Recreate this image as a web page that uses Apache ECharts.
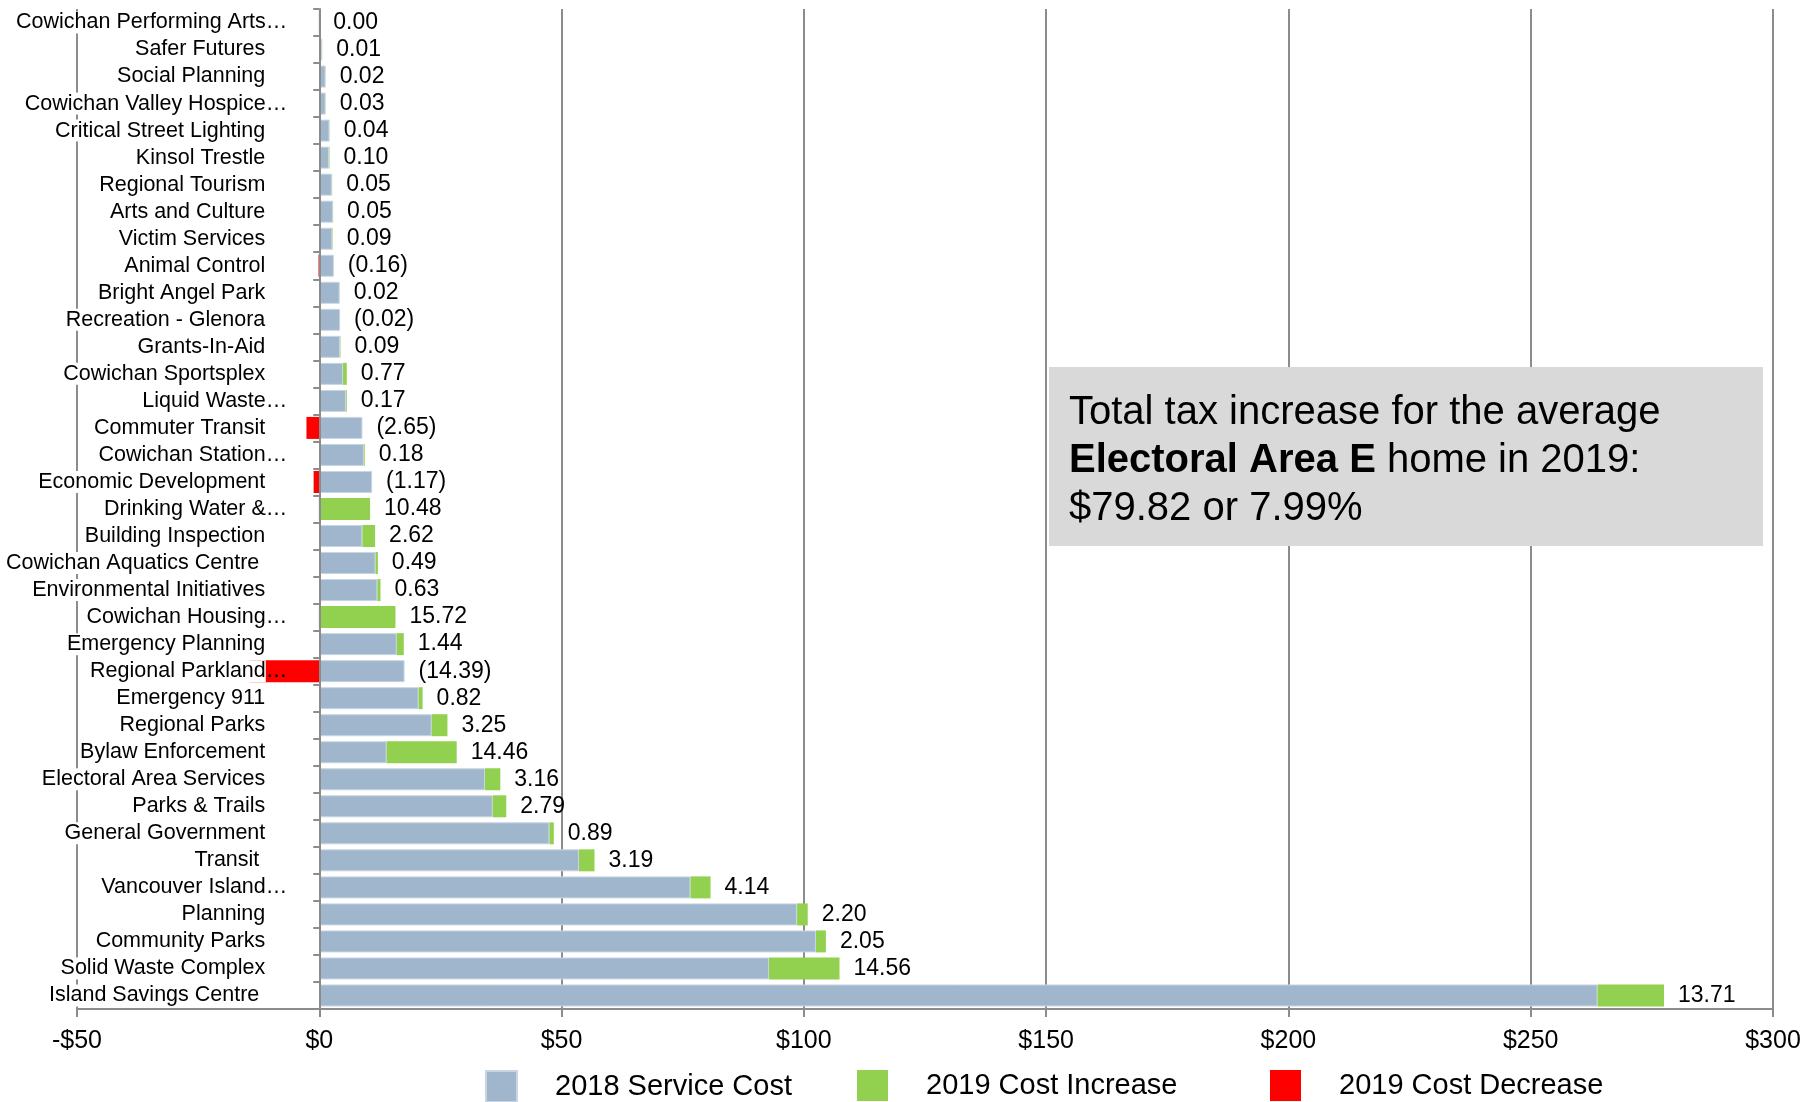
<!DOCTYPE html>
<html>
<head>
<meta charset="utf-8">
<script src="https://cdn.jsdelivr.net/npm/echarts@6/dist/echarts.min.js"></script>
<style>
    html, body { margin: 0; padding: 0; background: #fff; }
    #main { width: 1820px; height: 1102px; }
</style>
</head>
<body>
<div id="main"></div>
<script>
const categories = [
    "Cowichan Performing Arts…", "Safer Futures", "Social Planning", "Cowichan Valley Hospice…",
    "Critical Street Lighting", "Kinsol Trestle", "Regional Tourism", "Arts and Culture",
    "Victim Services", "Animal Control", "Bright Angel Park", "Recreation - Glenora",
    "Grants-In-Aid", "Cowichan Sportsplex", "Liquid Waste…", "Commuter Transit",
    "Cowichan Station…", "Economic Development", "Drinking Water &…", "Building Inspection",
    "Cowichan Aquatics Centre ", "Environmental Initiatives", "Cowichan Housing…", "Emergency Planning",
    "Regional Parkland…", "Emergency 911", "Regional Parks", "Bylaw Enforcement",
    "Electoral Area Services", "Parks & Trails", "General Government", "Transit ",
    "Vancouver Island…", "Planning", "Community Parks", "Solid Waste Complex",
    "Island Savings Centre "
];

// 2018 service cost per service ($)
const baseCost = [
    0, 0.6, 1.3, 1.3,
    2.1, 2.0, 2.6, 2.8,
    2.7, 3.0, 4.2, 4.3,
    4.3, 4.9, 5.5, 8.9,
    9.2, 10.9, 0, 8.9,
    11.6, 12.0, 0, 16.0,
    17.6, 20.5, 23.2, 13.9,
    34.2, 35.8, 47.5, 53.6,
    76.6, 98.6, 102.5, 92.8,
    263.8
];

// 2019 change (negative = decrease)
const change = [
    0.00, 0.01, 0.02, 0.03,
    0.04, 0.10, 0.05, 0.05,
    0.09, -0.16, 0.02, -0.02,
    0.09, 0.77, 0.17, -2.65,
    0.18, -1.17, 10.48, 2.62,
    0.49, 0.63, 15.72, 1.44,
    -14.39, 0.82, 3.25, 14.46,
    3.16, 2.79, 0.89, 3.19,
    4.14, 2.20, 2.05, 14.56,
    13.71
];

const xTicks = [-50, 0, 50, 100, 150, 200, 250, 300];

const increase = change.map(c => c > 0 ? c : 0);
const decrease = change.map(c => c < 0 ? c : 0);
const totals = baseCost.map((b, i) => b + increase[i]);

const font = "'Liberation Sans', Arial, sans-serif";
const gridColor = "#8c8c8c";

const gridLeft = 77, gridRight = 47;
const xMin = xTicks[0], xMax = xTicks[xTicks.length - 1];
// move the category axis onto the $0 line
const zeroOffset = -(1820 - gridLeft - gridRight) * (0 - xMin) / (xMax - xMin);

const chart = echarts.init(document.getElementById("main"), null, { renderer: "canvas" });

const legendBase = {
    top: 1070,
    padding: 0,
    itemWidth: 31,
    itemHeight: 31,
    icon: "rect",
    selectedMode: false,
    textStyle: {
        fontFamily: font,
        fontSize: 29,
        color: "#000",
        padding: [4, 0, 0, 33]
    }
};

option = {
    animation: false,
    backgroundColor: "#fff",
    grid: {
        left: gridLeft,
        right: gridRight,
        top: 9,
        bottom: 93,
        containLabel: false,
        outerBoundsMode: "none"
    },
    legend: [
        Object.assign({ left: 485, data: ["2018 Service Cost"] }, legendBase),
        Object.assign({ left: 857, data: ["2019 Cost Increase"] }, legendBase),
        Object.assign({ left: 1270, data: ["2019 Cost Decrease"] }, legendBase)
    ],
    xAxis: {
        type: "value",
        min: xMin,
        max: xMax,
        interval: 50,
        axisLine: { show: true, lineStyle: { color: gridColor, width: 2 } },
        axisTick: { show: true, length: 8, lineStyle: { color: gridColor, width: 2 } },
        splitLine: { show: true, lineStyle: { color: gridColor, width: 2 } },
        axisLabel: {
            fontFamily: font,
            fontSize: 25,
            color: "#000",
            margin: 20,
            formatter: (v) => v < 0 ? "-$" + Math.abs(v) : "$" + v
        }
    },
    yAxis: {
        type: "category",
        data: categories,
        inverse: true,
        offset: zeroOffset,
        z: 10,
        axisLine: { show: true, onZero: false, lineStyle: { color: gridColor, width: 2 } },
        axisTick: { show: true, length: 6, interval: 0, lineStyle: { color: gridColor, width: 2 } },
        axisLabel: {
            interval: 0,
            margin: 32,
            formatter: (v) => {
                if (v.endsWith("…")) {
                    return "{t|" + v.slice(0, -1) + "}{d|…}";
                }
                return "{t|" + v + "}{s| }";
            },
            rich: {
                t: {
                    fontFamily: font,
                    fontSize: 21.5,
                    color: "#000",
                    backgroundColor: "#fff",
                    lineHeight: 26
                },
                d: {
                    fontFamily: font,
                    fontSize: 21.5,
                    color: "#000",
                    lineHeight: 26
                },
                s: {
                    fontFamily: font,
                    fontSize: 21.5,
                    width: 22,
                    lineHeight: 26
                }
            }
        }
    },
    series: [
        {
            name: "2018 Service Cost",
            type: "bar",
            stack: "cost",
            barWidth: 22,
            barGap: "-100%",
            data: baseCost,
            itemStyle: { color: "#a0b6cd", borderColor: "#c8d5e2", borderWidth: 1 }
        },
        {
            name: "2019 Cost Increase",
            type: "bar",
            stack: "cost",
            barWidth: 22,
            barGap: "-100%",
            data: increase,
            itemStyle: { color: "#92d050" }
        },
        {
            name: "2019 Cost Decrease",
            type: "bar",
            stack: "cost",
            barWidth: 22,
            barGap: "-100%",
            data: decrease,
            itemStyle: { color: "#ff0000" }
        },
        {
            name: "labels",
            type: "bar",
            barWidth: 22,
            barGap: "-100%",
            silent: true,
            data: totals,
            itemStyle: { color: "transparent" },
            label: {
                show: true,
                position: "right",
                distance: 14,
                fontFamily: font,
                fontSize: 23,
                color: "#000",
                formatter: (p) => {
                    const c = change[p.dataIndex];
                    return c < 0 ? "(" + Math.abs(c).toFixed(2) + ")" : c.toFixed(2);
                }
            }
        }
    ],
    graphic: [
        {
            type: "rect",
            shape: { x: 1049, y: 367, width: 714, height: 179 },
            style: { fill: "#d9d9d9" },
            z: 20
        },
        {
            type: "text",
            x: 1069,
            y: 389,
            z: 21,
            style: {
                text: "Total tax increase for the average\n{b|Electoral Area E} home in 2019:\n$79.82 or 7.99%",
                fontFamily: font,
                fontSize: 40,
                lineHeight: 48,
                fill: "#000",
                rich: {
                    b: {
                        fontFamily: font,
                        fontSize: 40,
                        fontWeight: "bold",
                        lineHeight: 48,
                        fill: "#000"
                    }
                }
            }
        }
    ]
};

chart.setOption(option);
</script>
</body>
</html>
